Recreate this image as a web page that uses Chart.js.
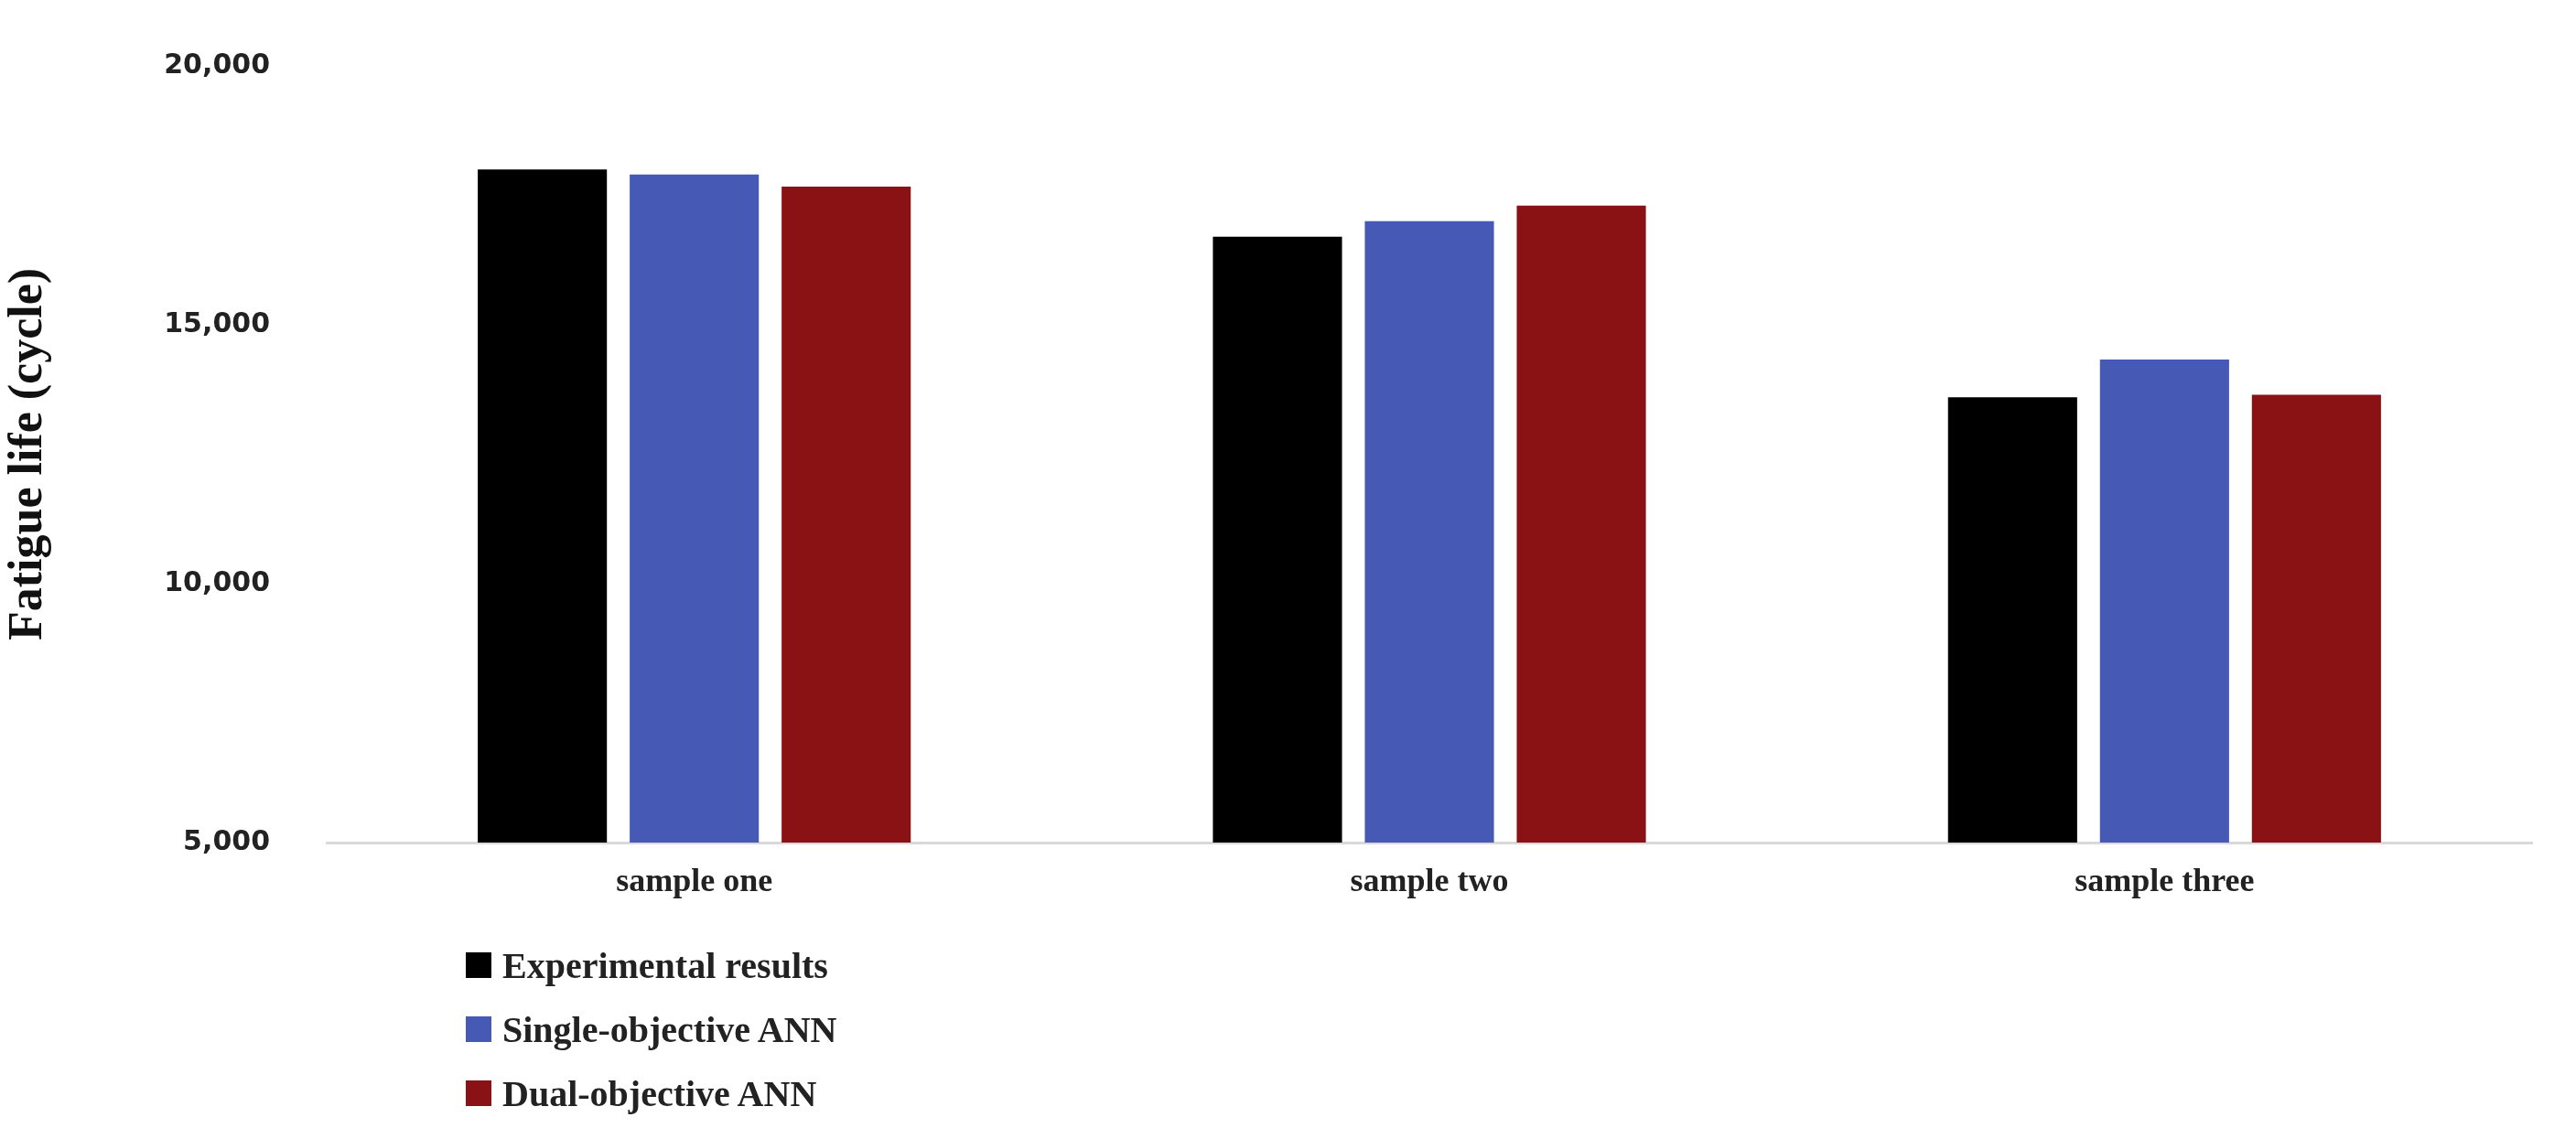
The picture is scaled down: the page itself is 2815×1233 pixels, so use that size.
<!DOCTYPE html>
<html>
<head>
<meta charset="utf-8">
<script src="https://cdn.jsdelivr.net/npm/chart.js@4/dist/chart.umd.min.js"></script>
<style>
  html, body { margin: 0; padding: 0; background: #fff; }
  #wrap { position: relative; width: 2815px; height: 1233px; }
  #legend { position: absolute; left: 509px; top: 1020px; font-family: "Liberation Serif", serif; font-weight: bold; font-size: 40px; color: #222; }
  #legend div { display: flex; align-items: center; height: 70px; }
  #legend span.box { display: inline-block; width: 28px; height: 28px; margin-right: 12px; }
</style>
</head>
<body>
<div id="wrap">
  <canvas id="c" width="2815" height="1233"></canvas>
  <div id="legend"></div>
</div>
<script>
const categories = ['sample one', 'sample two', 'sample three'];
const experimental = [18000, 16700, 13600];
const singleAnn = [17900, 17000, 14330];
const dualAnn = [17670, 17300, 13650];
const yTicks = [5000, 10000, 15000, 20000];

const ctx = document.getElementById('c').getContext('2d');
const chart = new Chart(ctx, {
    type: 'bar',
    data: {
        labels: categories,
        datasets: [
            { label: 'Experimental results', data: experimental, backgroundColor: '#000000' },
            { label: 'Single-objective ANN', data: singleAnn, backgroundColor: '#4659b5' },
            { label: 'Dual-objective ANN', data: dualAnn, backgroundColor: '#8b1214' }
        ]
    },
    options: {
        responsive: false,
        animation: false,
        layout: { padding: { top: 49, right: 48, bottom: 232, left: 0 } },
        datasets: { bar: { barPercentage: 0.85, categoryPercentage: 0.62 } },
        plugins: { legend: { display: false }, tooltip: { enabled: false } },
        scales: {
            x: {
                grid: { display: false },
                border: { display: true, color: '#d9d9d9', width: 3 },
                ticks: { color: '#222', padding: 14, font: { family: 'Liberation Serif', weight: 'bold', size: 36 } },
                afterFit: s => { s.height = 80; }
            },
            y: {
                min: 5000, max: 20000,
                afterBuildTicks: s => { s.ticks = yTicks.map(v => ({ value: v })); },
                grid: { display: false },
                border: { display: false },
                ticks: { color: '#222', padding: 54, font: { family: 'DejaVu Sans', weight: 'bold', size: 30 } },
                title: { display: true, text: 'Fatigue life (cycle)', color: '#111', padding: { top: 0, bottom: 0 },
                         font: { family: 'Liberation Serif', weight: 'bold', size: 52 } },
                afterFit: s => { s.width = 357; }
            }
        }
    }
});

const legend = document.getElementById('legend');
chart.data.datasets.forEach(ds => {
    const row = document.createElement('div');
    row.innerHTML = `<span class="box" style="background:${ds.backgroundColor}"></span>${ds.label}`;
    legend.appendChild(row);
});
</script>
</body>
</html>
